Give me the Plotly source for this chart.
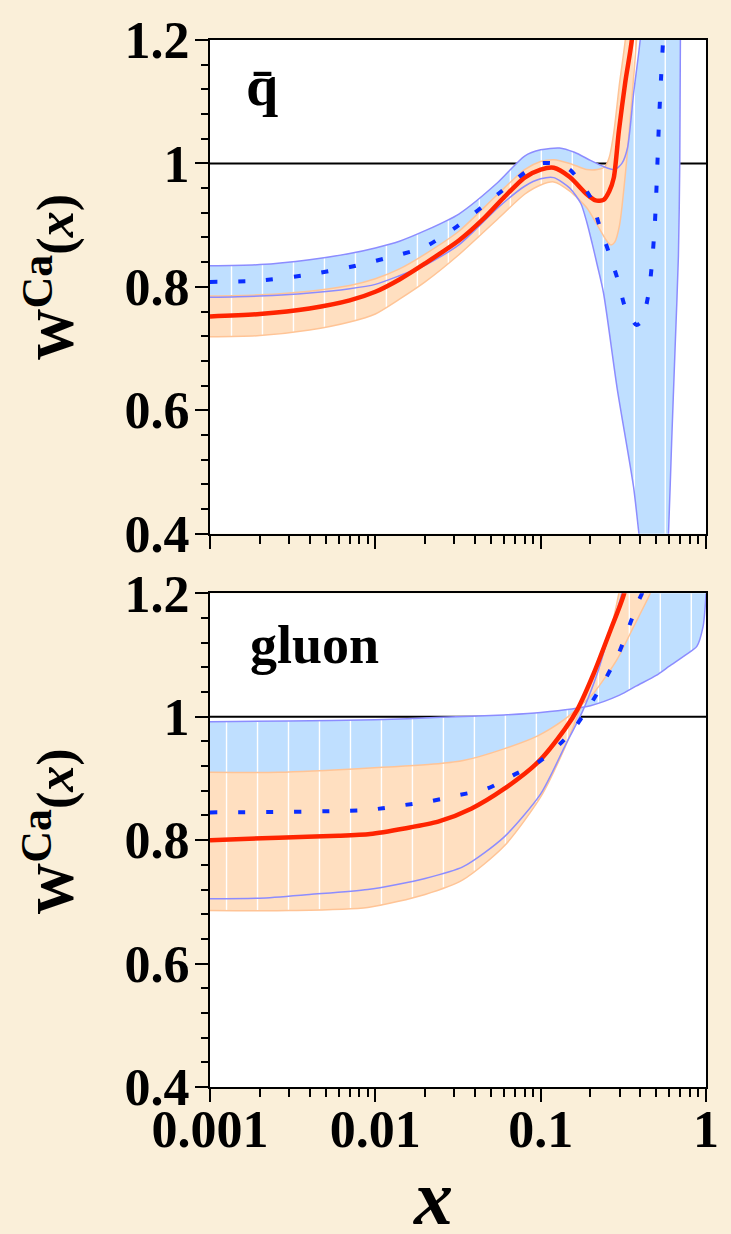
import numpy as np
import plotly.graph_objects as go

# ---------------- data: anti-quark panel (top) ----------------
qbar_x_blue_up = [0.001, 0.002, 0.004, 0.007, 0.01, 0.014, 0.02, 0.032, 0.055, 0.08, 0.1, 0.13, 0.16,
                  0.2, 0.24, 0.28, 0.31, 0.335, 0.365, 0.40, 0.5]
qbar_blue_up = [0.834, 0.836, 0.844, 0.854, 0.863, 0.874, 0.891, 0.918, 0.969, 1.012, 1.022, 1.025, 1.018,
                1.005, 0.995, 0.99, 1.0, 1.025, 1.114, 1.2, 1.5]

qbar_x_blue_lo = [0.001, 0.002, 0.004, 0.007, 0.01, 0.014, 0.02, 0.032, 0.055, 0.08, 0.1, 0.12, 0.15, 0.175,
                  0.19, 0.205, 0.22, 0.24, 0.29, 0.365, 0.393, 0.45, 0.52, 0.57, 0.593, 0.62, 0.65, 0.681,
                  0.694, 0.70, 0.72]
qbar_blue_lo = [0.783, 0.785, 0.79, 0.797, 0.804, 0.818, 0.835, 0.868, 0.928, 0.963, 0.975, 0.977, 0.96, 0.935,
                0.905, 0.87, 0.835, 0.79, 0.636, 0.475, 0.40, 0.28, 0.25, 0.32, 0.40, 0.55, 0.70, 0.85,
                1.0, 1.2, 1.5]

qbar_x_red = [0.001, 0.002, 0.004, 0.007, 0.01, 0.014, 0.02, 0.032, 0.045, 0.06, 0.08, 0.1, 0.12, 0.15,
              0.19, 0.215, 0.24, 0.26, 0.277, 0.297, 0.325, 0.356, 0.38]
qbar_red = [0.752, 0.756, 0.765, 0.778, 0.792, 0.812, 0.838, 0.875, 0.91, 0.945, 0.977, 0.99, 0.993, 0.978,
            0.95, 0.94, 0.941, 0.955, 0.977, 1.052, 1.132, 1.2, 1.3]

qbar_x_or_up = [0.001, 0.002, 0.004, 0.007, 0.01, 0.014, 0.02, 0.032, 0.055, 0.08, 0.1, 0.12, 0.15, 0.19,
                0.22, 0.245, 0.26, 0.277, 0.30, 0.325, 0.35]
qbar_or_up = [0.785, 0.787, 0.793, 0.802, 0.813, 0.829, 0.853, 0.89, 0.95, 0.99, 1.003, 1.006, 1.0, 0.99,
              0.99, 0.995, 1.01, 1.05, 1.13, 1.2, 1.3]

qbar_x_or_lo = [0.001, 0.002, 0.004, 0.007, 0.01, 0.014, 0.02, 0.032, 0.055, 0.08, 0.1, 0.12, 0.15, 0.19,
                0.22, 0.25, 0.265, 0.28, 0.30, 0.33, 0.36, 0.38, 0.40]
qbar_or_lo = [0.719, 0.721, 0.73, 0.743, 0.756, 0.78, 0.808, 0.852, 0.91, 0.95, 0.965, 0.97, 0.955, 0.928,
              0.9, 0.875, 0.868, 0.872, 0.9, 1.0, 1.12, 1.2, 1.3]

qbar_x_dash = [0.001, 0.002, 0.004, 0.007, 0.01, 0.014, 0.02, 0.032, 0.055, 0.08, 0.1, 0.12, 0.15, 0.2,
               0.225, 0.256, 0.29, 0.325, 0.36, 0.38, 0.41, 0.45, 0.47, 0.49, 0.50, 0.51, 0.52, 0.535,
               0.55, 0.57]
qbar_dash = [0.808, 0.81, 0.82, 0.832, 0.842, 0.852, 0.865, 0.9, 0.95, 0.985, 1.0, 1.0, 0.99, 0.945,
             0.902, 0.859, 0.815, 0.766, 0.745, 0.738, 0.745, 0.79, 0.835, 0.90, 0.95, 1.01, 1.07, 1.14,
             1.2, 1.3]

# ---------------- data: gluon panel (bottom) ----------------
g_x_blue_up = [0.001, 0.003, 0.01, 0.025, 0.06, 0.1, 0.2, 0.3, 0.38, 0.5, 0.6, 0.75, 0.88, 0.96, 0.99, 1.0]
g_blue_up = [0.992, 0.993, 0.995, 0.999, 1.003, 1.007, 1.018, 1.035, 1.05, 1.067, 1.082, 1.1, 1.114, 1.146,
             1.18, 1.2]

g_x_blue_lo = [0.001, 0.002, 0.004, 0.009, 0.02, 0.034, 0.06, 0.1, 0.14, 0.18, 0.22, 0.26, 0.31, 0.34]
g_blue_lo = [0.705, 0.706, 0.712, 0.72, 0.738, 0.757, 0.805, 0.875, 0.952, 1.01, 1.07, 1.135, 1.2, 1.26]

g_x_red = [0.001, 0.0026, 0.006, 0.0093, 0.015, 0.024, 0.038, 0.06, 0.096, 0.14, 0.167, 0.21, 0.265, 0.32,
           0.35]
g_red = [0.80, 0.804, 0.807, 0.81, 0.819, 0.83, 0.851, 0.883, 0.926, 0.98, 1.012, 1.071, 1.141, 1.2, 1.26]

g_x_dash = [0.001, 0.009, 0.015, 0.0215, 0.032, 0.047, 0.068, 0.1, 0.15, 0.2, 0.245, 0.297, 0.342, 0.393,
            0.41, 0.45]
g_dash = [0.845, 0.849, 0.857, 0.863, 0.873, 0.883, 0.905, 0.929, 0.972, 1.02, 1.06, 1.103, 1.146, 1.189,
          1.2, 1.24]

g_x_or_up = [0.001, 0.0026, 0.0093, 0.024, 0.034, 0.06, 0.096, 0.14, 0.178, 0.21, 0.29, 0.365, 0.46, 0.5]
g_or_up = [0.910, 0.91, 0.917, 0.924, 0.929, 0.948, 0.969, 0.996, 1.02, 1.039, 1.093, 1.146, 1.2, 1.23]

g_x_or_lo = [0.001, 0.003, 0.009, 0.02, 0.034, 0.06, 0.1, 0.14, 0.178, 0.22, 0.265, 0.297, 0.32]
g_or_lo = [0.686, 0.686, 0.691, 0.712, 0.736, 0.79, 0.87, 0.95, 1.02, 1.077, 1.141, 1.2, 1.25]

# axis ticks
x_tickvals = [0.001, 0.01, 0.1, 1]
x_ticktext = ["0.001", "0.01", "0.1", "1"]
x_minor = [m * 10.0 ** e for e in (-3, -2, -1) for m in range(2, 10)]
y_tickvals = [0.4, 0.6, 0.8, 1.0, 1.2]
y_ticktext = ["0.4", "0.6", "0.8", "1", "1.2"]

# ---------------- style ----------------
BG = "#faefd9"
BLUE_FILL = "rgb(191,223,255)"
BLUE_EDGE = "rgb(140,140,255)"
OR_FILL = "rgb(255,223,192)"
OR_EDGE = "rgb(255,196,150)"
RED = "rgb(255,36,0)"
DASHC = "rgb(10,45,255)"
FONT = "Liberation Serif"
SMOOTH = 0.7
STRIPE_STEP = 0.1874       # decades between white rendering stripes
STRIPE_OFF_TOP = 0.130
STRIPE_OFF_BOT = 0.100

fig = go.Figure()


def add_band(xlo, ylo, xup, yup, color, xa, ya):
    px = list(xlo) + list(xup)[::-1]
    py = list(ylo) + list(yup)[::-1]
    fig.add_trace(go.Scatter(x=px, y=py, fill="toself", fillcolor=color, mode="lines",
                             line=dict(width=0, color=color, shape="spline", smoothing=SMOOTH),
                             xaxis=xa, yaxis=ya, hoverinfo="skip", showlegend=False))


def add_line(x, y, color, width, xa, ya, dash="solid"):
    fig.add_trace(go.Scatter(x=x, y=y, mode="lines",
                             line=dict(color=color, width=width, dash=dash, shape="spline",
                                       smoothing=SMOOTH),
                             xaxis=xa, yaxis=ya, hoverinfo="skip", showlegend=False))


def add_stripes(curves, offset, xa, ya):
    sx, sy = [], []
    for lx in np.arange(-3 + offset, 0, STRIPE_STEP):
        vals = [np.interp(lx, np.log10(cx), cy) for cx, cy in curves]
        lo, hi = max(min(vals), 0.4), min(max(vals), 1.2)
        if hi > lo:
            sx += [10 ** lx, 10 ** lx, None]
            sy += [lo, hi, None]
    fig.add_trace(go.Scatter(x=sx, y=sy, mode="lines", line=dict(color="white", width=1.4),
                             xaxis=xa, yaxis=ya, hoverinfo="skip", showlegend=False))


def panel(xa, ya, bxu, bu, bxl, bl, oxu, ou, oxl, ol, rx, r, dx, d, off):
    add_band(bxl, bl, bxu, bu, BLUE_FILL, xa, ya)
    add_band(oxl, ol, oxu, ou, OR_FILL, xa, ya)
    add_stripes([(bxu, bu), (bxl, bl), (oxu, ou), (oxl, ol)], off, xa, ya)
    add_line(oxu, ou, OR_EDGE, 1.5, xa, ya)
    add_line(oxl, ol, OR_EDGE, 1.5, xa, ya)
    add_line(bxu, bu, BLUE_EDGE, 1.5, xa, ya)
    add_line(bxl, bl, BLUE_EDGE, 1.5, xa, ya)
    add_line(rx, r, RED, 4.5, xa, ya)
    add_line(dx, d, DASHC, 4, xa, ya, dash="7px,21px")


panel("x2", "y2", qbar_x_blue_up, qbar_blue_up, qbar_x_blue_lo, qbar_blue_lo,
      qbar_x_or_up, qbar_or_up, qbar_x_or_lo, qbar_or_lo, qbar_x_red, qbar_red,
      qbar_x_dash, qbar_dash, STRIPE_OFF_TOP)
panel("x", "y", g_x_blue_up, g_blue_up, g_x_blue_lo, g_blue_lo,
      g_x_or_up, g_or_up, g_x_or_lo, g_or_lo, g_x_red, g_red,
      g_x_dash, g_dash, STRIPE_OFF_BOT)

for xr, yr in (("x", "y"), ("x2", "y2")):
    fig.add_shape(type="line", xref=xr + " domain", yref=yr, x0=0, x1=1, y0=1, y1=1,
                  line=dict(color="black", width=2), layer="below")

tickfont = dict(family=FONT, size=52, color="black", weight="bold")
xcommon = dict(type="log", range=[-3, 0], showgrid=False, zeroline=False, showline=True,
               linecolor="black", linewidth=2, mirror=True, ticks="outside", ticklen=13,
               tickwidth=2, tickcolor="black", tickvals=x_tickvals, ticktext=x_ticktext,
               tickfont=tickfont, ticklabelstandoff=-17,
               minor=dict(tickvals=x_minor, ticks="outside", ticklen=8, tickwidth=1.5,
                          tickcolor="black", showgrid=False))
ycommon = dict(range=[0.4, 1.2], showgrid=False, zeroline=False, showline=True, linecolor="black",
               linewidth=2, mirror=True, ticks="outside", ticklen=13, tickwidth=2, tickcolor="black",
               tickvals=y_tickvals, ticktext=y_ticktext, tickfont=tickfont, ticklabelstandoff=-5,
               minor=dict(dtick=0.04, tick0=0.4, ticks="outside", ticklen=7, tickwidth=1.5,
                          tickcolor="black", showgrid=False))

fig.update_layout(
    width=731, height=1234,
    margin=dict(l=210, r=22, t=33, b=147),
    paper_bgcolor=BG, plot_bgcolor="white",
    showlegend=False,
    xaxis=dict(xcommon, anchor="y", domain=[0, 1]),
    yaxis=dict(ycommon, anchor="x", domain=[0, 0.4715]),
    xaxis2=dict(xcommon, anchor="y2", domain=[0, 1], showticklabels=False),
    yaxis2=dict(ycommon, anchor="x2", domain=[0.5285, 1]),
)

ytitle = "W<sup><span style='font-size:44px'>Ca</span></sup>(<i>x</i>)"
annos = [
    dict(text=ytitle, x=-0.3246, y=0.7732, textangle=-90, font=dict(family=FONT, size=52, weight="bold")),
    dict(text=ytitle, x=-0.3246, y=0.2438, textangle=-90, font=dict(family=FONT, size=52, weight="bold")),
    dict(text="q\u0304", x=0.1042, y=0.957, font=dict(family=FONT, size=58, weight="bold")),
    dict(text="gluon", x=0.2104, y=0.4224, font=dict(family=FONT, size=54, weight="bold")),
    dict(text="<i>x</i>", x=0.449, y=-0.106, font=dict(family=FONT, size=78, weight="bold")),
]
for a in annos:
    fig.add_annotation(xref="paper", yref="paper", showarrow=False, xanchor="center",
                       yanchor="middle", font_color="black", **a)

fig.write_html("out.html", config={"displayModeBar": False},
               post_script="document.body.style.margin='0px';")
